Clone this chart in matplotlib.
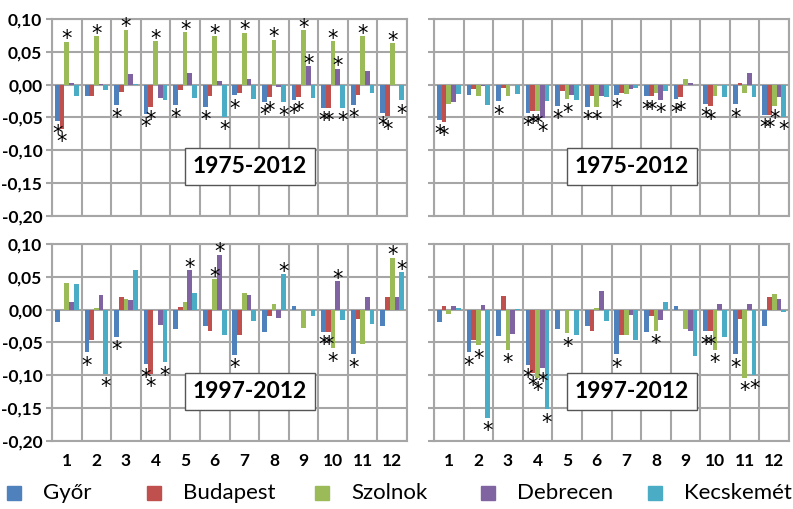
import numpy as np
import matplotlib
matplotlib.use("Agg")
import matplotlib.pyplot as plt
from matplotlib.patches import Rectangle
from matplotlib.ticker import FuncFormatter

months = list(range(1, 13))
cities = ["Győr", "Budapest", "Szolnok", "Debrecen", "Kecskemét"]
codes = ["G", "B", "S", "D", "K"]
colors = ["#4F81BD", "#C0504D", "#9BBB59", "#8064A2", "#4BACC6"]
yticks = [-0.20, -0.15, -0.10, -0.05, 0.00, 0.05, 0.10]

# left column, 1975-2012
a75_gyor = [-0.055, -0.018, -0.031, -0.044, -0.031, -0.034, -0.016, -0.026, -0.024, -0.035, -0.031, -0.043]
a75_buda = [-0.067, -0.018, -0.011, -0.034, -0.008, -0.018, -0.012, -0.019, -0.019, -0.035, -0.016, -0.048]
a75_szol = [0.065, 0.074, 0.084, 0.066, 0.080, 0.074, 0.079, 0.068, 0.083, 0.066, 0.074, 0.063]
a75_debr = [0.002, 0.001, 0.016, -0.021, 0.018, 0.006, 0.009, -0.003, 0.028, 0.024, 0.021, 0.0]
a75_kecs = [-0.018, -0.008, 0.001, -0.024, -0.020, -0.049, -0.022, -0.027, -0.020, -0.035, -0.012, -0.024]
a75_sig = ["GBS", "S", "GS", "GBS", "GS", "GSK", "GS", "GBSK", "GBSD", "GBSDK", "GS", "GBSK"]

# right column, 1975-2012
b75_gyor = [-0.054, -0.015, -0.025, -0.043, -0.032, -0.034, -0.015, -0.018, -0.022, -0.029, -0.030, -0.046]
b75_buda = [-0.057, -0.007, -0.005, -0.040, -0.010, -0.017, -0.012, -0.018, -0.019, -0.033, 0.002, -0.046]
b75_szol = [-0.029, -0.018, -0.018, -0.040, -0.022, -0.034, -0.014, -0.012, 0.008, -0.018, -0.012, -0.032]
b75_debr = [-0.027, -0.002, 0.0, -0.051, -0.015, -0.018, -0.006, -0.023, 0.002, 0.0, 0.018, -0.019]
b75_kecs = [-0.014, -0.031, -0.014, -0.025, -0.023, -0.019, -0.005, -0.010, -0.001, -0.019, -0.019, -0.049]
b75_sig = ["GB", "", "G", "GBSD", "GS", "GS", "G", "GBD", "GB", "GB", "G", "GBSK"]

# left column, 1997-2012
a97_gyor = [-0.019, -0.065, -0.041, -0.083, -0.030, -0.025, -0.069, -0.034, 0.005, -0.034, -0.068, -0.025]
a97_buda = [0.0, -0.046, 0.019, -0.098, 0.004, -0.033, -0.039, -0.009, 0.0, -0.034, -0.014, 0.019]
a97_szol = [0.041, 0.003, 0.017, 0.0, 0.012, 0.046, 0.026, 0.009, -0.028, -0.059, -0.053, 0.079]
a97_debr = [0.012, 0.023, 0.014, -0.024, 0.060, 0.084, 0.022, -0.013, 0.0, 0.043, 0.019, 0.019]
a97_kecs = [0.039, -0.098, 0.061, -0.080, 0.026, -0.039, -0.018, 0.054, -0.009, -0.015, -0.022, 0.057]
a97_sig = ["", "GK", "G", "GBK", "D", "SD", "G", "K", "", "GBSD", "G", "SK"]

# right column, 1997-2012
b97_gyor = [-0.019, -0.065, -0.040, -0.084, -0.029, -0.025, -0.068, -0.034, 0.006, -0.033, -0.068, -0.025]
b97_buda = [0.006, -0.046, 0.021, -0.096, 0.0, -0.033, -0.038, -0.009, 0.0, -0.033, -0.014, 0.019]
b97_szol = [-0.007, -0.054, -0.061, -0.104, -0.036, 0.002, -0.038, -0.032, -0.030, -0.061, -0.104, 0.024]
b97_debr = [0.006, 0.007, -0.037, -0.089, 0.0, 0.029, -0.008, -0.016, -0.033, 0.009, 0.009, 0.017]
b97_kecs = [0.003, -0.165, 0.001, -0.152, -0.038, -0.018, -0.046, 0.011, -0.070, -0.041, -0.100, -0.004]
b97_sig = ["", "GSK", "S", "GBSDK", "S", "", "G", "S", "", "GBS", "GSK", ""]

panels = [
    ([a75_gyor, a75_buda, a75_szol, a75_debr, a75_kecs], a75_sig, "1975-2012"),
    ([b75_gyor, b75_buda, b75_szol, b75_debr, b75_kecs], b75_sig, "1975-2012"),
    ([a97_gyor, a97_buda, a97_szol, a97_debr, a97_kecs], a97_sig, "1997-2012"),
    ([b97_gyor, b97_buda, b97_szol, b97_debr, b97_kecs], b97_sig, "1997-2012"),
]

grid_col = "#a6a6a6"
W, H = 793, 509
fig = plt.figure(figsize=(W / 100, H / 100), dpi=100)

# axes boxes in pixels: left, top, width, height
boxes = [(52, 19, 355, 197), (434, 19, 355, 197),
         (52, 244, 355, 197), (434, 244, 355, 197)]

bw = 0.16
x = np.array(months, dtype=float)

for i, (series, sig, label) in enumerate(panels):
    l, t, w, h = boxes[i]
    ax = fig.add_axes([l / W, 1 - (t + h) / H, w / W, h / H])
    for j, vals in enumerate(series):
        xs = x + (j - 2) * bw
        ax.bar(xs, vals, width=bw, color=colors[j], zorder=3, linewidth=0)
        for k, v in enumerate(vals):
            if codes[j] in sig[k]:
                off = -2.5 if v >= 0 else -14
                ax.annotate("*", xy=(xs[k], v), xytext=(0, off),
                            textcoords="offset points", ha="center",
                            va="baseline", fontsize=15,
                            family="DejaVu Sans", zorder=4)
    ax.set_xlim(0.5, 12.5)
    ax.set_ylim(-0.20, 0.10)
    ax.set_yticks(yticks)
    ax.set_xticks(months)
    ax.set_xticks(np.arange(0.5, 13, 1), minor=True)
    ax.grid(True, axis="y", which="major", color=grid_col, lw=1.5, zorder=0)
    ax.grid(True, axis="x", which="minor", color=grid_col, lw=1.5, zorder=0)
    ax.tick_params(axis="x", which="both", length=0)
    ax.tick_params(axis="y", length=4, width=1.5, color=grid_col, pad=3)
    for s in ax.spines.values():
        s.set_color(grid_col)
        s.set_linewidth(1.5)
    if i % 2 == 0:
        ax.yaxis.set_major_formatter(
            FuncFormatter(lambda v, p: f"{round(v, 2) + 0:.2f}".replace(".", ",")))
        for tl in ax.get_yticklabels():
            tl.set_fontfamily("Lato")
            tl.set_fontweight("bold")
            tl.set_fontsize(12.5)
    else:
        ax.set_yticklabels([])
    if i >= 2:
        ax.set_xticklabels([str(m) for m in months], fontfamily="Lato",
                           fontweight="bold", fontsize=12.5)
        ax.tick_params(axis="x", pad=9)
    else:
        ax.set_xticklabels([])
    ax.text(0.557, 0.25, label, transform=ax.transAxes, ha="center",
            va="center", fontsize=16.5, fontweight="bold", family="Lato",
            zorder=5,
            bbox=dict(boxstyle="square,pad=0.35", fc="white", ec="#555555", lw=1))

# legend row
leg_x = [7, 147, 315, 481, 648]
leg_y = 493
for name, col, lx in zip(cities, colors, leg_x):
    fig.patches.append(Rectangle((lx / W, 1 - (leg_y + 7) / H), 14 / W, 14 / H,
                                 transform=fig.transFigure, color=col))
    fig.text((lx + 36) / W, 1 - leg_y / H, name, ha="left", va="center",
             fontsize=16, family="Lato")

fig.savefig("out.png", dpi=100)
